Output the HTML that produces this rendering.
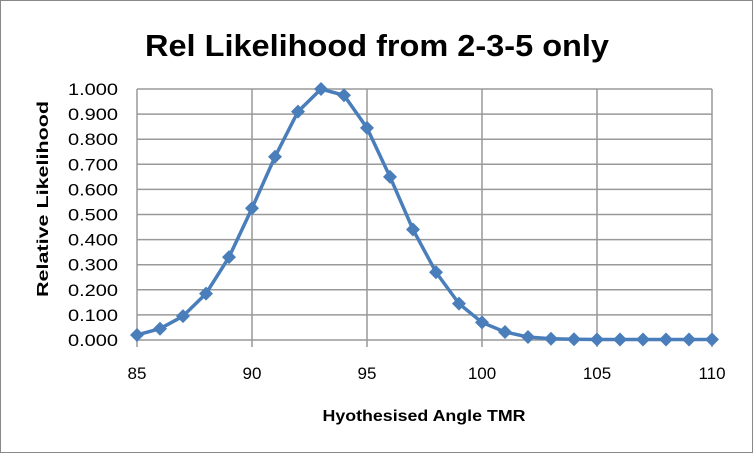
<!DOCTYPE html><html><head><style>body{margin:0;background:#fff}</style></head><body>
<svg width="754" height="454" xmlns="http://www.w3.org/2000/svg" font-family="Liberation Sans, sans-serif">
<rect x="0.5" y="0.5" width="752" height="452" fill="#fff" stroke="#888"/>
<text x="377" y="56" text-anchor="middle" font-size="31" font-weight="bold" textLength="464" lengthAdjust="spacingAndGlyphs">Rel Likelihood from 2-3-5 only</text>
<g stroke="#999" stroke-width="1.5" id="g"></g>
<text transform="translate(48,199) rotate(-90)" text-anchor="middle" font-size="16" font-weight="bold" textLength="196" lengthAdjust="spacingAndGlyphs">Relative Likelihood</text>
<text x="424" y="421" text-anchor="middle" font-size="16" font-weight="bold" textLength="203" lengthAdjust="spacingAndGlyphs">Hyothesised Angle TMR</text>
<g id="t" font-size="17" fill="#000"></g>
<polyline id="p" fill="none" stroke="#4a7ebb" stroke-width="3.5" stroke-linejoin="round"/>
<g id="m" fill="#4a7ebb"></g>
</svg>
<script>
var ns="http://www.w3.org/2000/svg",g=document.getElementById('g'),t=document.getElementById('t'),m=document.getElementById('m');
function X(v){return 137+(v-85)*23}function Y(v){return 340-v*251}
function el(p,n,a,tx){var e=document.createElementNS(ns,n);for(var k in a)e.setAttribute(k,a[k]);if(tx)e.textContent=tx;p.appendChild(e);}
for(var i=0;i<=10;i++){var y=Y(i/10);el(g,'line',{x1:137,x2:712,y1:y,y2:y});el(t,'text',{x:118,y:y+6,'text-anchor':'end',textLength:50,lengthAdjust:'spacingAndGlyphs'},(i/10).toFixed(3));}
for(var v=85;v<=110;v+=5){el(g,'line',{x1:X(v),x2:X(v),y1:89,y2:347});el(t,'text',{x:X(v),y:379,'text-anchor':'middle'},v);}
var d=[0.02,0.045,0.095,0.185,0.33,0.525,0.73,0.91,1.0,0.975,0.845,0.65,0.44,0.27,0.145,0.07,0.032,0.012,0.005,0.003,0.002,0.002,0.002,0.002,0.002,0.002];
var pts=d.map(function(v,i){return X(85+i)+','+Y(v)}).join(' ');document.getElementById('p').setAttribute('points',pts);
d.forEach(function(v,i){var x=X(85+i),y=Y(v);el(m,'polygon',{points:(x-7)+','+y+' '+x+','+(y-7)+' '+(x+7)+','+y+' '+x+','+(y+7)});});
</script></body></html>
